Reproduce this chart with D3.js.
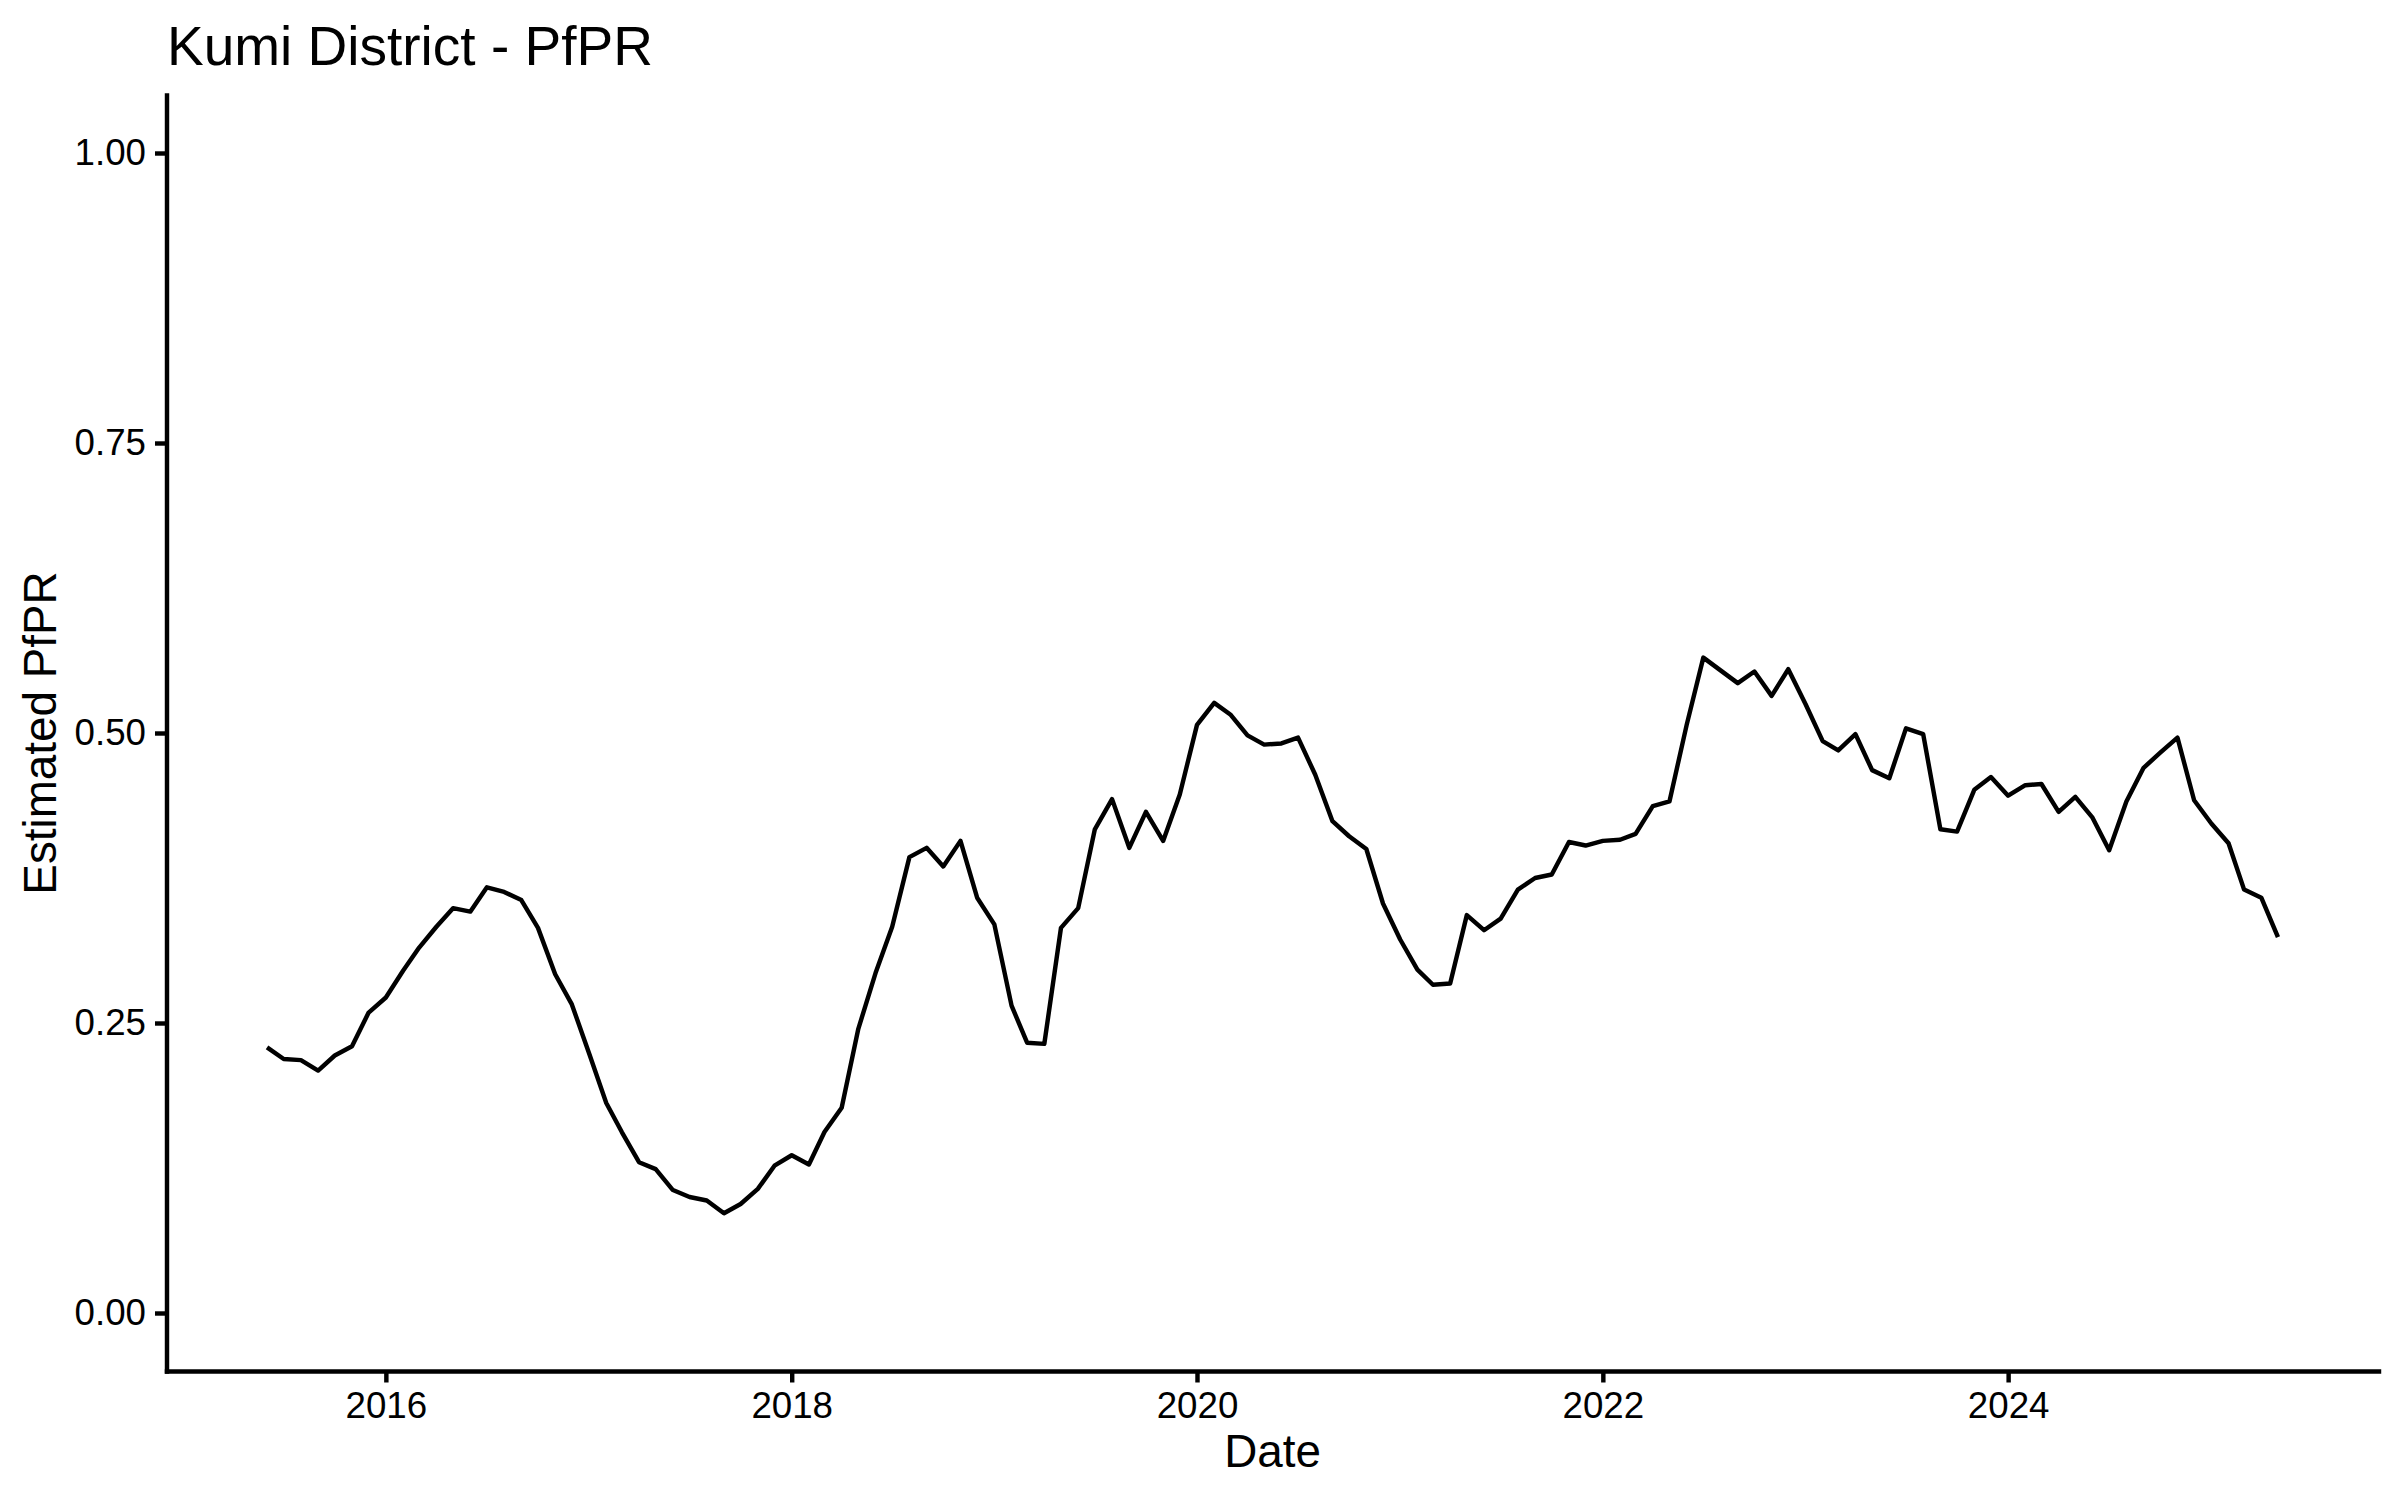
<!DOCTYPE html>
<html>
<head>
<meta charset="utf-8">
<script src="https://cdn.jsdelivr.net/npm/d3@7"></script>
<style>
  html, body { margin: 0; padding: 0; background: #fff; }
  svg { display: block; }
  text { font-family: "Liberation Sans", Arial, sans-serif; fill: #000; }
</style>
</head>
<body>
<svg id="chart" width="2400" height="1500"></svg>
<script>
// ---- data (monthly estimates) ----
const months = [
  "2015-06","2015-07","2015-08","2015-09","2015-10","2015-11","2015-12",
  "2016-01","2016-02","2016-03","2016-04","2016-05","2016-06","2016-07","2016-08","2016-09","2016-10","2016-11","2016-12",
  "2017-01","2017-02","2017-03","2017-04","2017-05","2017-06","2017-07","2017-08","2017-09","2017-10","2017-11","2017-12",
  "2018-01","2018-02","2018-03","2018-04","2018-05","2018-06","2018-07","2018-08","2018-09","2018-10","2018-11","2018-12",
  "2019-01","2019-02","2019-03","2019-04","2019-05","2019-06","2019-07","2019-08","2019-09","2019-10","2019-11","2019-12",
  "2020-01","2020-02","2020-03","2020-04","2020-05","2020-06","2020-07","2020-08","2020-09","2020-10","2020-11","2020-12",
  "2021-01","2021-02","2021-03","2021-04","2021-05","2021-06","2021-07","2021-08","2021-09","2021-10","2021-11","2021-12",
  "2022-01","2022-02","2022-03","2022-04","2022-05","2022-06","2022-07","2022-08","2022-09","2022-10","2022-11","2022-12",
  "2023-01","2023-02","2023-03","2023-04","2023-05","2023-06","2023-07","2023-08","2023-09","2023-10","2023-11","2023-12",
  "2024-01","2024-02","2024-03","2024-04","2024-05","2024-06","2024-07","2024-08","2024-09","2024-10","2024-11","2024-12",
  "2025-01","2025-02","2025-03","2025-04","2025-05"
];
const pfpr = [
  0.229,0.219,0.218,0.209,0.222,0.230,0.259,
  0.272,0.295,0.315,0.333,0.349,0.346,0.367,0.363,0.356,0.332,0.292,0.266,
  0.224,0.181,0.156,0.130,0.124,0.106,0.100,0.097,0.086,0.094,0.107,0.127,
  0.136,0.128,0.156,0.177,0.245,0.293,0.333,0.393,0.401,0.385,0.407,0.358,
  0.335,0.265,0.233,0.232,0.332,0.349,0.417,0.443,0.401,0.432,0.407,0.447,
  0.507,0.526,0.516,0.498,0.490,0.491,0.496,0.464,0.424,0.411,0.400,0.353,
  0.322,0.296,0.283,0.284,0.343,0.330,0.340,0.365,0.375,0.378,0.406,0.403,
  0.407,0.408,0.413,0.437,0.441,0.507,0.565,0.554,0.543,0.553,0.532,0.555,
  0.525,0.493,0.485,0.499,0.468,0.461,0.504,0.499,0.417,0.415,0.451,0.462,
  0.446,0.455,0.456,0.432,0.445,0.427,0.399,0.441,0.470,0.483,0.496,0.442,
  0.422,0.405,0.365,0.358,0.324
];
const yTicks = [0, 0.25, 0.5, 0.75, 1.0];
const xTickYears = ["2016","2018","2020","2022","2024"];
const titleText = "Kumi District - PfPR";
const xLabel = "Date";
const yLabel = "Estimated PfPR";

// ---- layout ----
const panel = { left: 166.5, right: 2378.5, top: 95, bottom: 1371 };
const lw = 4.44;
const tickLen = 11.5, tickPad = 9;

const parseMonth = d3.timeParse("%Y-%m");
const parseYear = d3.timeParse("%Y");
const data = months.map((m, i) => ({ date: parseMonth(m), value: pfpr[i] }));

const ext = d3.extent(data, d => d.date);
const span = ext[1] - ext[0];
const x = d3.scaleTime()
  .domain([new Date(+ext[0] - 0.05 * span), new Date(+ext[1] + 0.05 * span)])
  .range([panel.left, panel.right]);
const y = d3.scaleLinear()
  .domain([-0.05, 1.05])
  .range([panel.bottom, panel.top]);

const svg = d3.select("#chart");

// line
const line = d3.line().x(d => x(d.date)).y(d => y(d.value));
svg.append("path")
  .datum(data)
  .attr("d", line)
  .attr("fill", "none")
  .attr("stroke", "#000")
  .attr("stroke-width", lw)
  .attr("stroke-linejoin", "round")
  .attr("stroke-linecap", "butt");

// axes
const xAxis = d3.axisBottom(x)
  .tickValues(xTickYears.map(parseYear))
  .tickFormat(d3.timeFormat("%Y"))
  .tickSize(tickLen).tickSizeOuter(0).tickPadding(tickPad);
const yAxis = d3.axisLeft(y)
  .tickValues(yTicks)
  .tickFormat(d3.format(".2f"))
  .tickSize(tickLen).tickSizeOuter(0).tickPadding(tickPad);

const gx = svg.append("g").attr("transform", `translate(0,${panel.bottom})`).call(xAxis);
const gy = svg.append("g").attr("transform", `translate(${panel.left},0)`).call(yAxis);

[gx, gy].forEach(g => {
  g.select(".domain").attr("stroke", "#000").attr("stroke-width", lw).attr("stroke-linecap", "square");
  g.selectAll(".tick line").attr("stroke", "#000").attr("stroke-width", lw);
  g.selectAll(".tick text")
    .attr("font-family", '"Liberation Sans", Arial, sans-serif')
    .attr("font-size", 36.7)
    .attr("fill", "#000");
});

// title
svg.append("text")
  .attr("x", 167).attr("y", 65)
  .attr("font-size", 55)
  .text(titleText);

// axis titles
svg.append("text")
  .attr("x", (panel.left + panel.right) / 2).attr("y", 1467)
  .attr("text-anchor", "middle")
  .attr("font-size", 45.8)
  .text(xLabel);

svg.append("text")
  .attr("transform", `translate(55.5,${(panel.top + panel.bottom) / 2}) rotate(-90)`)
  .attr("text-anchor", "middle")
  .attr("font-size", 45.8)
  .text(yLabel);
</script>
</body>
</html>
